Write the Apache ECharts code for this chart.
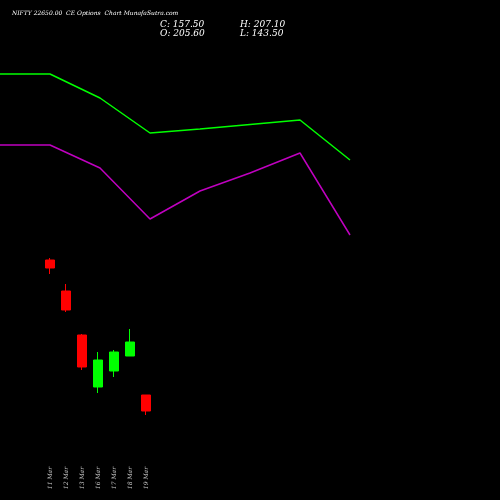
<!DOCTYPE html><html><head><meta charset="utf-8"><script src="https://cdn.jsdelivr.net/npm/echarts@6/dist/echarts.min.js"></script></head><body style="margin:0;background:#000"><div id="c" style="width:500px;height:500px"></div><script>
const dates=["11 Mar","12 Mar","13 Mar","16 Mar","17 Mar","18 Mar","19 Mar"];
// [open, close, low, high] in chart units (500 - pixel row)
const candles=[[240,232,226,242],[209,190,188,216],[165,133,130,166],[113,140,107,148],[129,148,123,150],[144,158,144,171],[105,89,85,105]];
const lineX=[0,50,100,150,200,250,300,350];
const upper=[426,426,402,367,371,375.5,380,340];
const lower=[355,355,332,281,309,327,347,265];
const ch=echarts.init(document.getElementById('c'));
ch.setOption({backgroundColor:'#000',animation:false,
graphic:[{type:'text',left:12,top:10,style:{text:'NIFTY 22650.00  CE Options  Chart MunafaSutra.com',fill:'#fff',font:'italic 6px DejaVu Serif'}},
{type:'text',left:160,top:20,style:{text:'C: 157.50',fill:'#fff',font:'italic 9px DejaVu Serif'}},
{type:'text',left:160,top:29,style:{text:'O: 205.60',fill:'#fff',font:'italic 9px DejaVu Serif'}},
{type:'text',left:240,top:20,style:{text:'H: 207.10',fill:'#fff',font:'italic 9px DejaVu Serif'}},
{type:'text',left:240,top:29,style:{text:'L: 143.50',fill:'#fff',font:'italic 9px DejaVu Serif'}}],
grid:[{left:0,right:0,top:0,bottom:0},{left:42,width:112,top:0,height:440}],
xAxis:[{type:'value',gridIndex:0,min:0,max:500,show:false},
{type:'category',gridIndex:1,data:dates,axisLine:{show:false},axisTick:{show:false},axisLabel:{rotate:90,margin:27,color:'#ccc',fontSize:6,fontStyle:'italic',fontFamily:'DejaVu Serif',interval:0}}],
yAxis:[{type:'value',gridIndex:0,min:0,max:500,show:false},{type:'value',gridIndex:1,min:60,max:500,show:false}],
series:[{type:'line',xAxisIndex:0,yAxisIndex:0,data:lineX.map((x,i)=>[x,upper[i]]),symbol:'none',lineStyle:{color:'#00ff00',width:1.5}},
{type:'line',xAxisIndex:0,yAxisIndex:0,data:lineX.map((x,i)=>[x,lower[i]]),symbol:'none',lineStyle:{color:'#c000c0',width:1.5}},
{type:'candlestick',xAxisIndex:1,yAxisIndex:1,data:candles,barWidth:9,itemStyle:{color:'#00ff00',color0:'#ff0000',borderColor:'#00ff00',borderColor0:'#ff0000',borderWidth:1}}]});
</script></body></html>
